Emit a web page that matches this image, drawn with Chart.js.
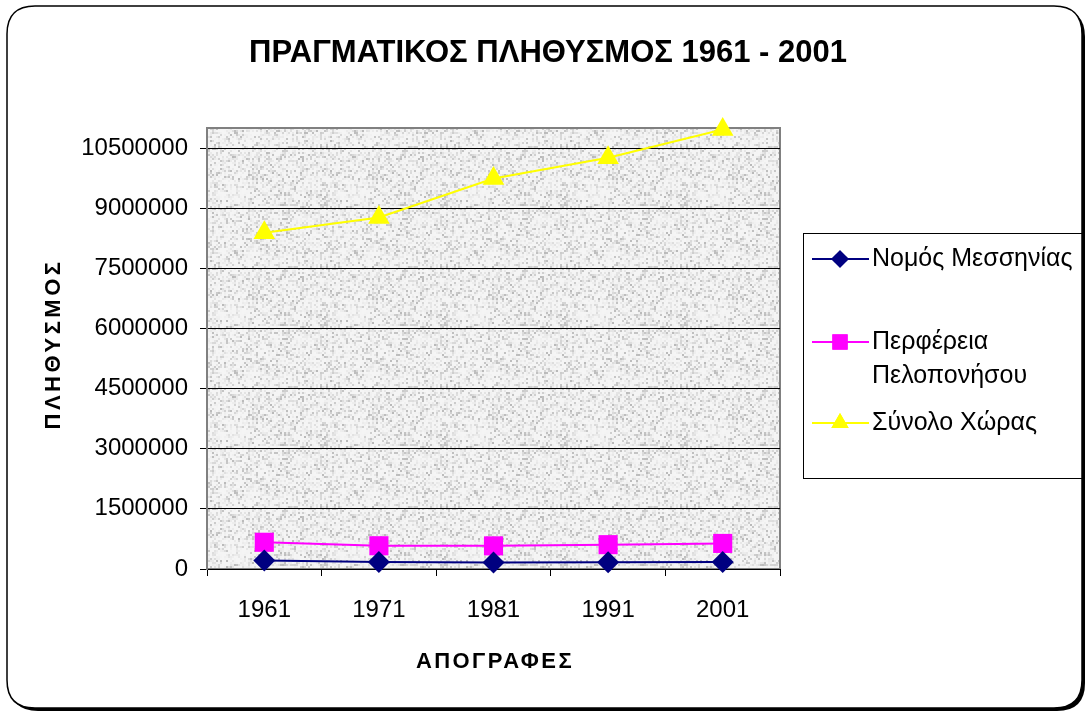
<!DOCTYPE html>
<html>
<head>
<meta charset="utf-8">
<script src="https://cdn.jsdelivr.net/npm/chart.js@4.4.1/dist/chart.umd.min.js"></script>
<style>
  html, body { margin:0; padding:0; background:#fff; }
  #wrap { width:1086px; height:713px; position:relative; }
</style>
</head>
<body>
<div id="wrap"><canvas id="chart"></canvas></div>
<script>
// ===== DATA =====
const YEARS = ["1961", "1971", "1981", "1991", "2001"];
const MESSINIA = [211970, 172850, 159818, 166964, 176876];
const PELOPONNESE = [667000, 580000, 577000, 607000, 638000];
const GREECE = [8388553, 8768641, 9740417, 10259900, 10964020];
const SERIES_NAMES = ["Νομός Μεσσηνίας", "Περφέρεια Πελοπονήσου", "Σύνολο Χώρας"];
const Y_TICKS = [0, 1500000, 3000000, 4500000, 6000000, 7500000, 9000000, 10500000];
const TITLE = "ΠΡΑΓΜΑΤΙΚΟΣ ΠΛΗΘΥΣΜΟΣ 1961 - 2001";
const X_TITLE = "ΑΠΟΓΡΑΦΕΣ";
const Y_TITLE = "ΠΛΗΘΥΣΜΟΣ";
const Y_MAX = 11000000;

const FONT = "'Liberation Sans', Arial, sans-serif";

// ===== GRANITE-ISH BACKGROUND TILE =====
function makeTexture(ctx){
    const c = document.createElement("canvas");
    c.width = 120; c.height = 120;
    const t = c.getContext("2d");
    t.fillStyle = "#ececec";
    t.fillRect(0,0,120,120);
    for(let y=0;y<120;y+=2){
        for(let x=0;x<120;x+=2){
            let h = Math.sin(x*12.9898 + y*78.233)*43758.5453;
            h = h - Math.floor(h);
            let g = Math.round(245 - h*h*h*h*60);
            t.fillStyle = `rgb(${g},${g},${g})`;
            t.fillRect(x,y,2,2);
        }
    }
    return ctx.createPattern(c, "repeat");
}

function roundRect(ctx, x, y, w, h, r){
    ctx.beginPath();
    ctx.moveTo(x+r, y);
    ctx.lineTo(x+w-r, y);
    ctx.quadraticCurveTo(x+w, y, x+w, y+r);
    ctx.lineTo(x+w, y+h-r);
    ctx.quadraticCurveTo(x+w, y+h, x+w-r, y+h);
    ctx.lineTo(x+r, y+h);
    ctx.quadraticCurveTo(x, y+h, x, y+h-r);
    ctx.lineTo(x, y+r);
    ctx.quadraticCurveTo(x, y, x+r, y);
    ctx.closePath();
}

// ===== FRAME, PLOT BACKGROUND, TITLES, LEGEND =====
const decor = {
    id: "decor",
    beforeDraw(chart){
        const ctx = chart.ctx, a = chart.chartArea;
        ctx.save();
        // shadow + frame
        roundRect(ctx, 10, 9, 1075, 702, 28);
        ctx.fillStyle = "#000"; ctx.fill();
        roundRect(ctx, 7, 6, 1075, 702, 28);
        ctx.fillStyle = "#fff"; ctx.fill();
        ctx.lineWidth = 1.5; ctx.strokeStyle = "#000"; ctx.stroke();
        // plot area
        if(!chart._tex) chart._tex = makeTexture(ctx);
        ctx.fillStyle = chart._tex;
        ctx.fillRect(a.left, a.top, a.right-a.left, a.bottom-a.top);
        ctx.lineWidth = 2; ctx.strokeStyle = "#808080";
        ctx.strokeRect(a.left, a.top, a.right-a.left, a.bottom-a.top);
        ctx.restore();
    },
    afterDraw(chart){
        const ctx = chart.ctx;
        ctx.save();
        ctx.fillStyle = "#000";
        ctx.textBaseline = "middle";
        // main title
        ctx.font = "bold 31px " + FONT;
        ctx.textAlign = "center";
        ctx.fillText(TITLE, 548, 53);
        // x title
        ctx.font = "bold 22px " + FONT;
        ctx.letterSpacing = "2.4px";
        ctx.fillText(X_TITLE, 495, 662);
        // y title
        ctx.letterSpacing = "3.5px";
        ctx.translate(54, 346);
        ctx.rotate(-Math.PI/2);
        ctx.fillText(Y_TITLE, 2, 0);
        ctx.restore();

        // legend
        ctx.save();
        ctx.lineWidth = 1; ctx.strokeStyle = "#000";
        ctx.strokeRect(803.5, 233.5, 279, 245);
        ctx.font = "25px " + FONT;
        ctx.textBaseline = "middle";
        ctx.textAlign = "left";
        ctx.fillStyle = "#000";
        const rows = [259, 342, 423];
        chart.data.datasets.forEach((ds,i)=>{
            const y = rows[i];
            ctx.strokeStyle = ds.borderColor; ctx.lineWidth = 2;
            ctx.beginPath(); ctx.moveTo(812, y); ctx.lineTo(869, y); ctx.stroke();
            ctx.fillStyle = ds.backgroundColor;
            Chart.helpers.drawPoint(ctx, {pointStyle: ds.pointStyle, radius: ds.pointRadius*0.8, borderWidth: 0}, 840, y);
            ctx.fill();
            ctx.fillStyle = "#000";
            // wrap words into lines that fit the box
            const words = ds.label.split(" ");
            let lines = [], cur = "";
            words.forEach(w=>{
                const t = cur ? cur+" "+w : w;
                if(ctx.measureText(t).width > 206 && cur){ lines.push(cur); cur = w; }
                else cur = t;
            });
            lines.push(cur);
            lines.forEach((l,k)=> ctx.fillText(l, 872, y + k*34));
        });
        ctx.restore();
    }
};

// ===== CHART =====
const ctx = document.getElementById("chart").getContext("2d");
const chart = new Chart(ctx, {
    type: "line",
    data: {
        labels: YEARS,
        datasets: [
            {label: SERIES_NAMES[0], data: MESSINIA, borderColor:"#000080", backgroundColor:"#000080",
             pointStyle:"rectRot", pointRadius:11, pointHoverRadius:11, borderWidth:2, pointBorderWidth:0, clip:false},
            {label: SERIES_NAMES[1], data: PELOPONNESE, borderColor:"#FF00FF", backgroundColor:"#FF00FF",
             pointStyle:"rect", pointRadius:13.5, pointHoverRadius:13.5, borderWidth:2, pointBorderWidth:0, clip:false},
            {label: SERIES_NAMES[2], data: GREECE, borderColor:"#FFFF00", backgroundColor:"#FFFF00",
             pointStyle:"triangle", pointRadius:12.5, pointHoverRadius:12.5, borderWidth:2, pointBorderWidth:0, clip:false}
        ]
    },
    options: {
        responsive: true,
        maintainAspectRatio: false,
        animation: false,
        layout: {padding: {top:128, right:306, left:0, bottom:0}},
        plugins: {legend:{display:false}, title:{display:false}, tooltip:{enabled:false}},
        scales: {
            x: {
                offset: true,
                afterFit: s => { s.height = 144; },
                grid: {offset:true, drawOnChartArea:false, drawTicks:true, tickLength:7, color:"#000", lineWidth:1},
                border: {color:"#000", width:1},
                ticks: {color:"#000", font:{family:FONT, size:24}, padding:20, maxRotation:0}
            },
            y: {
                min: 0, max: Y_MAX,
                afterFit: s => { s.width = 207; },
                afterBuildTicks: s => { s.ticks = Y_TICKS.map(v => ({value: v})); },
                grid: {color:"#000", lineWidth:1, drawTicks:true, tickLength:7},
                border: {color:"#808080", width:2},
                ticks: {autoSkip:false, color:"#000", font:{family:FONT, size:24}, padding:12,
                        callback: v => String(v)}
            }
        }
    },
    plugins: [decor]
});
</script>
</body>
</html>
